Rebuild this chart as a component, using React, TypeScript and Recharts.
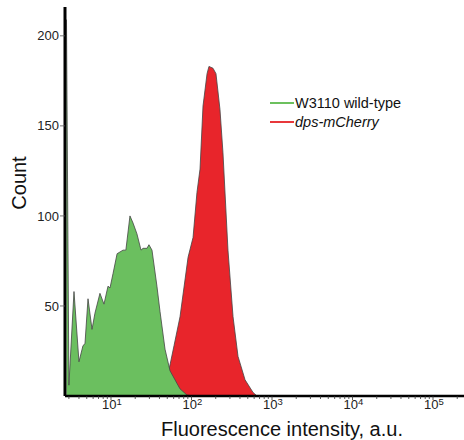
import React from 'react';
import { ComposedChart, Area, XAxis, YAxis } from 'recharts';

// Fluorescence intensity (a.u.) and event counts
const wildTypeIntensity = [2.8, 3.0, 3.47, 4.0, 4.49, 4.75, 5.18, 5.81, 6.32, 7.29, 8.18, 9.18, 9.72, 10.6, 11.9, 14.1, 15.3, 17.2, 18.8, 21.0, 23.6, 25.0, 28.0, 29.6, 32.3, 37.2, 40.6, 46.9, 54.1, 71.9, 87.9, 110];
const wildTypeCount = [209, 6, 58, 19, 28, 29, 54, 37, 46, 57, 51, 61, 60, 68, 79, 81, 81, 100, 96, 90, 81, 82, 82, 84, 81, 61, 47, 26, 14, 4, 0.5, 0];

const mCherryIntensity = [40.6, 51.1, 60.7, 72.0, 90.6, 104.5, 116.9, 127.6, 139.0, 156.0, 164.8, 184.9, 201.4, 225.9, 246.0, 283.8, 328.1, 378.4, 462.4, 580.8, 651.6];
const mCherryCount = [0, 12, 28, 44, 77, 88, 113, 126, 161, 179, 183, 182, 179, 159, 135, 81, 44, 22, 9, 2, 0];

const seriesNames = ['W3110 wild-type', 'dps-mCherry'];
const seriesFill = ['#6bbf5f', '#e8252b'];
const legendLine = ['#6cc05e', '#e8383b'];

const majorExponents = [1, 2, 3, 4, 5];
const minorMultipliers = [2, 3, 4, 5, 6, 7, 8, 9];
const minorDecades = [0, 1, 2, 3, 4, 5];
const yTicks = [50, 100, 150, 200];

const X_MIN = 0.4286;
const X_MAX = 5.385;

const wildTypeData = wildTypeIntensity.map((v, i) => ({ x: Math.log10(v), y: wildTypeCount[i] }));
const mCherryData = mCherryIntensity.map((v, i) => ({ x: Math.log10(v), y: mCherryCount[i] }));

const xTicks: number[] = [...majorExponents];
minorDecades.forEach((d) => minorMultipliers.forEach((m) => {
  const t = d + Math.log10(m);
  if (t > X_MIN && t < X_MAX) xTicks.push(t);
}));
xTicks.sort((a, b) => a - b);

const FONT = '"Liberation Sans", Arial, sans-serif';

const XTick = (props: any) => {
  const { x, y, payload } = props;
  const v = payload.value;
  const major = Math.abs(v - Math.round(v)) < 1e-6;
  return (
    <g>
      <line x1={x} x2={x} y1={y} y2={y + (major ? 4 : 3)} stroke="#333" strokeWidth={0.8} />
      {major && (
        <text x={x + 1} y={y + 13} textAnchor="middle" fontSize={13} fill="#222" fontFamily={FONT}>
          <tspan>10</tspan>
          <tspan dy={-4} fontSize={9.5}>{Math.round(v)}</tspan>
        </text>
      )}
    </g>
  );
};

const LegendOverlay = () => (
  <div style={{ position: 'absolute', left: 270, top: 94, fontFamily: FONT, fontSize: 14.5, color: '#111', lineHeight: '18.5px' }}>
    {seriesNames.map((n, i) => (
      <div key={n} style={{ display: 'flex', alignItems: 'center' }}>
        <span style={{ display: 'inline-block', width: 24, height: 2, background: legendLine[i], marginRight: 1 }} />
        <span style={{ fontStyle: i === 1 ? 'italic' : 'normal' }}>{n}</span>
      </div>
    ))}
  </div>
);

export default function App() {
  return (
    <div style={{ position: 'absolute', left: 0, top: 0, width: 464, height: 440, background: '#fff' }}>
      <ComposedChart width={464} height={440} margin={{ top: 7, right: 0, left: 0, bottom: 0 }}>
        <XAxis
          type="number"
          dataKey="x"
          domain={[X_MIN, X_MAX]}
          allowDataOverflow
          ticks={xTicks}
          interval={0}
          tick={<XTick />}
          tickLine={false}
          tickSize={0}
          tickMargin={0}
          height={44}
          axisLine={{ stroke: '#000', strokeWidth: 2.5 }}
        />
        <YAxis
          type="number"
          domain={[0, 216]}
          ticks={yTicks}
          width={65}
          tickSize={5}
          tickMargin={1}
          tick={{ fontSize: 13, fill: '#222', fontFamily: FONT }}
          tickLine={{ stroke: '#555', strokeWidth: 0.8 }}
          axisLine={{ stroke: '#000', strokeWidth: 3 }}
        />
        <Area data={mCherryData} dataKey="y" name={seriesNames[1]} type="linear" fill={seriesFill[1]} fillOpacity={1} stroke="#444" strokeWidth={0.8} isAnimationActive={false} />
        <Area data={wildTypeData} dataKey="y" name={seriesNames[0]} type="linear" fill={seriesFill[0]} fillOpacity={1} stroke="#444" strokeWidth={0.8} isAnimationActive={false} />
        <text x={282} y={436} textAnchor="middle" fontSize={20} fill="#111" fontFamily={FONT}>Fluorescence intensity, a.u.</text>
        <text x={18.5} y={183} textAnchor="middle" fontSize={20} fill="#111" fontFamily={FONT} transform="rotate(-90 18.5 183)" dominantBaseline="central">Count</text>
      </ComposedChart>
      <LegendOverlay />
    </div>
  );
}
